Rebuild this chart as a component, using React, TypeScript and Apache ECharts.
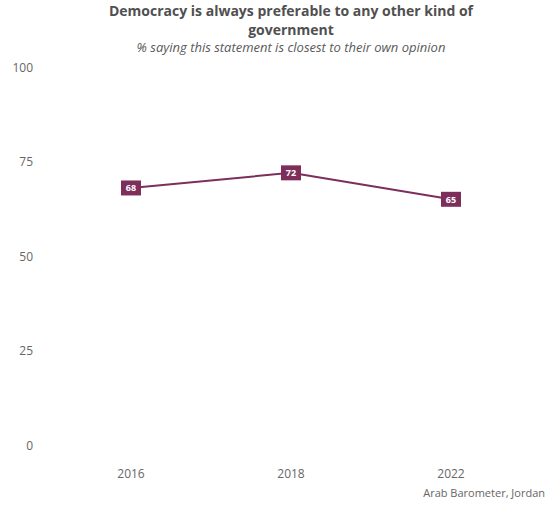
import React, { useEffect, useRef } from "react";
import * as echarts from "echarts";

const years = ["2016", "2018", "2022"];
const values = [68, 72, 65];
const yTicks = [0, 25, 50, 75, 100];
const titleLines = ["Democracy is always preferable to any other kind of", "government"];
const subtitle = "% saying this statement is closest to their own opinion";
const caption = "Arab Barometer, Jordan";

const FONT = "'Open Sans', 'Noto Sans', sans-serif";
const COLOR = "#7d2e5b";

export default function App() {
  const ref = useRef<HTMLDivElement>(null);
  useEffect(() => {
    if (!ref.current) return;
    const chart = echarts.init(ref.current, null, { renderer: "svg" });
    chart.setOption({
      animation: false,
      backgroundColor: "#ffffff",
      textStyle: { fontFamily: FONT },
      grid: { left: 51, right: 18, top: 67, bottom: 61, containLabel: false },
      graphic: [
        {
          type: "text",
          x: 291,
          y: 10.5,
          style: {
            text: titleLines[0],
            font: `bold 14px ${FONT}`,
            fill: "#505050",
            align: "center",
            verticalAlign: "middle",
          },
        },
        {
          type: "text",
          x: 291,
          y: 29.5,
          style: {
            text: titleLines[1],
            font: `bold 14px ${FONT}`,
            fill: "#505050",
            align: "center",
            verticalAlign: "middle",
          },
        },
        {
          type: "text",
          x: 291,
          y: 47,
          style: {
            text: subtitle,
            font: `italic 13px ${FONT}`,
            fill: "#5a5a5a",
            align: "center",
            verticalAlign: "middle",
          },
        },
        {
          type: "text",
          right: 4,
          top: 487,
          style: {
            text: caption,
            font: `11px ${FONT}`,
            fill: "#666666",
          },
        },
      ],
      xAxis: {
        type: "category",
        data: years,
        boundaryGap: true,
        axisLine: { show: false },
        axisTick: { show: false },
        axisLabel: { color: "#666666", fontSize: 12, margin: 22, fontFamily: FONT },
        splitLine: { show: false },
      },
      yAxis: {
        type: "value",
        min: 0,
        max: 100,
        interval: 25,
        axisLine: { show: false },
        axisTick: { show: false },
        splitLine: { show: false },
        axisLabel: {
          color: "#666666",
          fontSize: 12,
          margin: 18,
          fontFamily: FONT,
          formatter: (v: number) => (yTicks.includes(v) ? String(v) : ""),
        },
      },
      series: [
        {
          type: "line",
          data: values,
          lineStyle: { color: COLOR, width: 2 },
          itemStyle: { color: COLOR },
          symbol: "rect",
          symbolSize: [20, 15],
          label: {
            show: true,
            position: "inside",
            color: "#ffffff",
            fontSize: 9,
            fontWeight: "bold",
            fontFamily: FONT,
          },
        },
      ],
    });
    return () => chart.dispose();
  }, []);
  return (
    <div
      ref={ref}
      style={{ position: "absolute", left: 0, top: 0, width: 549, height: 506 }}
    />
  );
}
